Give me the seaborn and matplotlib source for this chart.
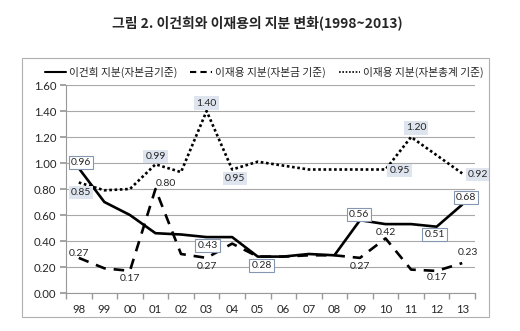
import matplotlib
matplotlib.use("Agg")
import matplotlib.pyplot as plt
import seaborn as sns
import numpy as np
from matplotlib.lines import Line2D
from matplotlib.patches import Rectangle

years = ["98", "99", "00", "01", "02", "03", "04", "05", "06", "07", "08", "09", "10", "11", "12", "13"]
lee_kh = [0.96, 0.70, 0.60, 0.46, 0.45, 0.43, 0.43, 0.28, 0.28, 0.30, 0.29, 0.56, 0.53, 0.53, 0.51, 0.68]
lee_jy_cap = [0.27, 0.19, 0.17, 0.80, 0.30, 0.27, 0.38, 0.28, 0.28, 0.29, 0.29, 0.27, 0.42, 0.18, 0.17, 0.23]
lee_jy_eq = [0.85, 0.79, 0.80, 0.99, 0.93, 1.40, 0.95, 1.01, 0.98, 0.95, 0.95, 0.95, 0.95, 1.20, 1.06, 0.92]
y_ticks = [0.0, 0.2, 0.4, 0.6, 0.8, 1.0, 1.2, 1.4, 1.6]
names = ["이건희 지분(자본금기준)", "이재용 지분(자본금 기준)", "이재용 지분(자본총계 기준)"]
title = "그림 2. 이건희와 이재용의 지분 변화(1998~2013)"

# which points carry labels (index into years) and pixel offsets
lab_kh = {0: (2, 6), 5: (1, -8), 7: (4, -9), 11: (-1, 6), 14: (-2, -8), 15: (4, 7)}
lab_cap = {0: (0, 4), 2: (0, -8), 3: (10, 6), 5: (0, -9), 11: (0, -9), 12: (0, 6), 14: (0, -7), 15: (6, 11)}
lab_eq = {0: (2, -10), 3: (0, 8), 5: (0, 8), 6: (3, -9), 12: (14, -1), 13: (5, 9), 15: (16, -1)}

sns.set_theme(style="white")
plt.rcParams['font.family'] = ['Noto Sans CJK KR', 'DejaVu Sans']

fig = plt.figure(figsize=(5.2, 3.31), dpi=100)
ax = fig.add_axes([66/520, 1-293/331, (475-66)/520, (293-85)/331])

x = np.arange(len(years))
sns.lineplot(x=x, y=lee_kh, ax=ax, color="black", lw=1.9, label=names[0])
sns.lineplot(x=x, y=lee_jy_cap, ax=ax, color="black", lw=1.9, label=names[1])
sns.lineplot(x=x, y=lee_jy_eq, ax=ax, color="black", lw=1.9, label=names[2])
lines = ax.get_lines()
lines[1].set_dashes([4, 3])
lines[2].set_dashes([1, 1])

num_font = ['Lato', 'DejaVu Sans']
ax.set_xlim(-0.5, len(years) - 0.5)
ax.set_ylim(0, 1.6)
ax.set_yticks(y_ticks)
ax.set_yticklabels([f"{v:.2f}" for v in y_ticks], fontsize=8.2, family=num_font)
ax.set_xticks(x)
ax.set_xticklabels(years, fontsize=8.2, family=num_font)
ax.set_xticks(np.arange(-0.5, len(years), 1), minor=True)
ax.tick_params(axis='x', which='major', length=0, pad=8)
ax.tick_params(axis='x', which='minor', length=4, color='#999999', direction='out', bottom=True)
ax.tick_params(axis='y', length=4, color='#999999', direction='out', left=True, pad=3)
ax.yaxis.grid(True, color='#a8a8a8', lw=0.8)
ax.xaxis.grid(False)
for s in ['top', 'right']:
    ax.spines[s].set_visible(False)
for s in ['left', 'bottom']:
    ax.spines[s].set_color('#999999')
    ax.spines[s].set_linewidth(0.8)
ax.set_facecolor('none')
ax.legend_.remove()

def put(labels, vals, style):
    for i, (dx, dy) in labels.items():
        ax.annotate(f"{vals[i]:.2f}", xy=(i, vals[i]), xytext=(dx, dy), textcoords='offset pixels',
                    ha='center', va='center', fontsize=7.5, family=num_font, bbox=style)

put(lab_kh, lee_kh, dict(boxstyle='square,pad=0.2', fc='white', ec='#8496b0', lw=0.8))
put(lab_cap, lee_jy_cap, None)
put(lab_eq, lee_jy_eq, dict(boxstyle='square,pad=0.2', fc='#dfe5ee', ec='none'))

fig.patches.append(Rectangle((22/520, 1-317/331), (489-22)/520, (317-58)/331, transform=fig.transFigure,
                             fill=False, ec='#b0b0b0', lw=0.8))

handles = [Line2D([], [], color='black', lw=1.5),
           Line2D([], [], color='black', lw=1.5, dashes=[3, 2]),
           Line2D([], [], color='black', lw=1.2, dashes=[1, 1])]
fig.legend(handles, names, loc='center', bbox_to_anchor=(0.508, 1-72/331), ncol=3, frameon=False,
           fontsize=7.7, handlelength=2.0, handletextpad=0.3, columnspacing=1.2)

fig.text(0.494, 1-23/331, title, ha='center', va='center', fontsize=10, fontweight='bold')

fig.savefig("out.png", dpi=100, facecolor='white')
